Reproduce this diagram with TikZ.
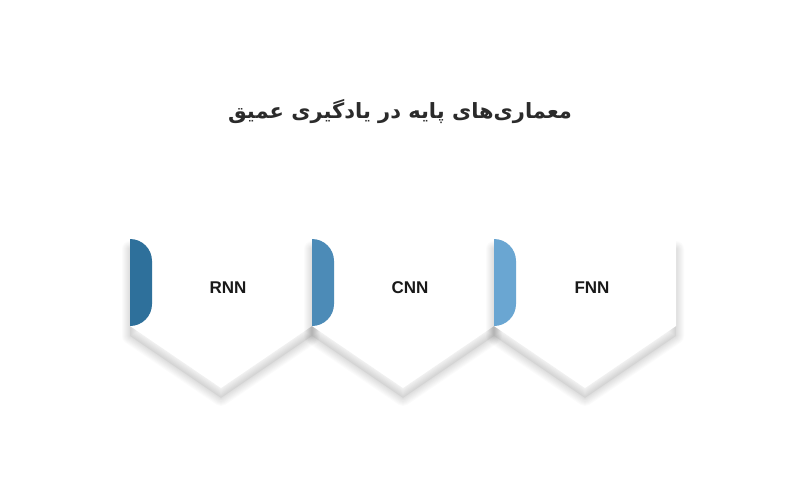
\documentclass[tikz,border=0pt]{standalone}
\usepackage{fontspec}
\usepackage{xcolor}
\usepackage{tikz}
\usetikzlibrary{positioning}
\TeXXeTstate=1
\setmainfont{Liberation Sans}
\newfontfamily\arabicfont[Script=Arabic]{DejaVu Sans}

\definecolor{tabRNN}{RGB}{46,112,155}
\definecolor{tabCNN}{RGB}{76,139,183}
\definecolor{tabFNN}{RGB}{106,166,210}
\definecolor{titleGray}{RGB}{43,43,43}
\definecolor{labelGray}{RGB}{25,25,25}

\tikzset{
  boxShadow/.style={draw=black, draw opacity=0.015, line join=round},
  boxShadowCore/.style={fill=black, fill opacity=0.045},
  boxFace/.style={fill=white},
  labelText/.style={font=\bfseries\fontsize{17}{20}\selectfont, text=labelGray},
  titleText/.style={font=\arabicfont\bfseries\fontsize{21}{26}\selectfont, text=titleGray},
}

\begin{document}
\begin{tikzpicture}[x=1pt,y=1pt,yscale=-1,xscale=1]
%background, sets the 800 x 500 frame
\fill[white] (0,0) rectangle (800,500);
\useasboundingbox (0,0) rectangle (800,500);

% Title Node
\node[titleText] (title) at (400,112) {\beginR معماری‌های پایه در یادگیری عمیق\endR};

%Shapes: the three boxes, drawn left to right so each shadow falls on the one before
\foreach \x/\col/\name/\txt in {130/tabRNN/rnn/RNN, 312/tabCNN/cnn/CNN, 494/tabFNN/fnn/FNN}{
  %soft shadow
  \fill[boxShadowCore] (\x,249) -- (\x+182,249) -- (\x+182,336) -- (\x+91,398) -- (\x,336) -- cycle;
  \foreach \w in {2,4,...,16}
    \draw[boxShadow, line width=\w pt] (\x,249) -- (\x+182,249) -- (\x+182,336) -- (\x+91,398) -- (\x,336) -- cycle;
  %white face
  \fill[boxFace] (\x,239) -- (\x+182,239) -- (\x+182,326) -- (\x+91,388) -- (\x,326) -- cycle;
  %blue tab
  \fill[\col] (\x,326) -- (\x,239) arc[start angle=-90, end angle=0, radius=22] -- (\x+22,304) arc[start angle=0, end angle=90, radius=22] -- cycle;
  % Text Node
  \node[labelText] (\name) at (\x+98,288) {\txt};
}

\end{tikzpicture}
\end{document}
